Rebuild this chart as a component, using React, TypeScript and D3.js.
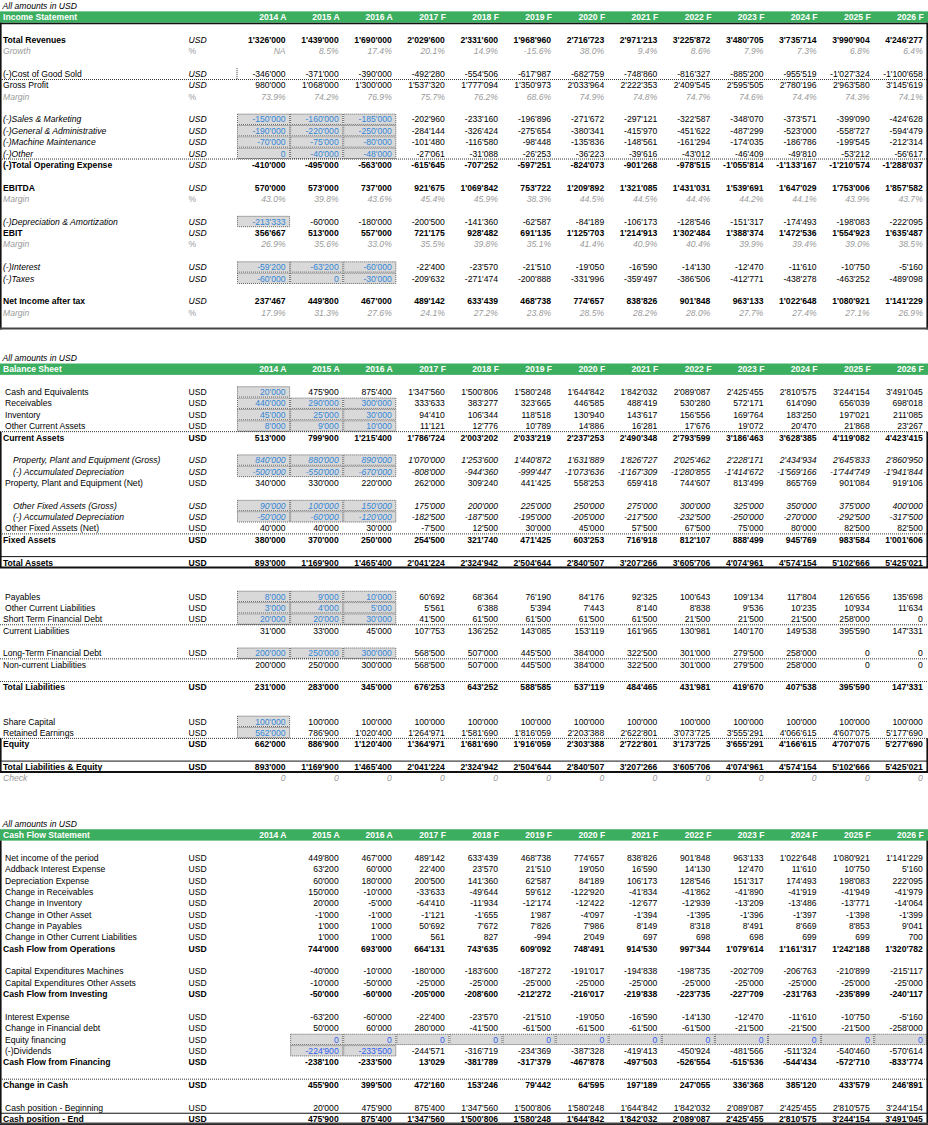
import React from "react";
import * as d3 from "d3";

// ---------- Column headers ----------
const years = ["2014 A", "2015 A", "2016 A", "2017 F", "2018 F", "2019 F", "2020 F", "2021 F", "2022 F", "2023 F", "2024 F", "2025 F", "2026 F"];

// ---------- Income statement ----------
const revenues = [1326000, 1439000, 1690000, 2029600, 2331600, 1968960, 2716723, 2971213, 3225872, 3480705, 3735714, 3990904, 4246277];
const growth = [null, 8.5, 17.4, 20.1, 14.9, -15.6, 38.0, 9.4, 8.6, 7.9, 7.3, 6.8, 6.4];
const cogs = [-346000, -371000, -390000, -492280, -554506, -617987, -682759, -748860, -816327, -885200, -955519, -1027324, -1100658];
const grossProfit = [980000, 1068000, 1300000, 1537320, 1777094, 1350973, 2033964, 2222353, 2409545, 2595505, 2780196, 2963580, 3145619];
const grossMargin = [73.9, 74.2, 76.9, 75.7, 76.2, 68.6, 74.9, 74.8, 74.7, 74.6, 74.4, 74.3, 74.1];
const salesMarketing = [-150000, -160000, -185000, -202960, -233160, -196896, -271672, -297121, -322587, -348070, -373571, -399090, -424628];
const generalAdmin = [-190000, -220000, -250000, -284144, -326424, -275654, -380341, -415970, -451622, -487299, -523000, -558727, -594479];
const machineMaint = [-70000, -75000, -80000, -101480, -116580, -98448, -135836, -148561, -161294, -174035, -186786, -199545, -212314];
const otherOpex = [0, -40000, -48000, -27061, -31088, -26253, -36223, -39616, -43012, -46409, -49810, -53212, -56617];
const totalOpex = [-410000, -495000, -563000, -615645, -707252, -597251, -824073, -901268, -978515, -1055814, -1133167, -1210574, -1288037];
const ebitda = [570000, 573000, 737000, 921675, 1069842, 753722, 1209892, 1321085, 1431031, 1539691, 1647029, 1753006, 1857582];
const ebitdaMargin = [43.0, 39.8, 43.6, 45.4, 45.9, 38.3, 44.5, 44.5, 44.4, 44.2, 44.1, 43.9, 43.7];
const depAmort = [-213333, -60000, -180000, -200500, -141360, -62587, -84189, -106173, -128546, -151317, -174493, -198083, -222095];
const ebit = [356667, 513000, 557000, 721175, 928482, 691135, 1125703, 1214913, 1302484, 1388374, 1472536, 1554923, 1635487];
const ebitMargin = [26.9, 35.6, 33.0, 35.5, 39.8, 35.1, 41.4, 40.9, 40.4, 39.9, 39.4, 39.0, 38.5];
const interest = [-59200, -63200, -60000, -22400, -23570, -21510, -19050, -16590, -14130, -12470, -11610, -10750, -5160];
const taxes = [-60000, 0, -30000, -209632, -271474, -200888, -331996, -359497, -386506, -412771, -438278, -463252, -489098];
const netIncome = [237467, 449800, 467000, 489142, 633439, 468738, 774657, 838826, 901848, 963133, 1022648, 1080921, 1141229];
const netMargin = [17.9, 31.3, 27.6, 24.1, 27.2, 23.8, 28.5, 28.2, 28.0, 27.7, 27.4, 27.1, 26.9];

// ---------- Balance sheet ----------
const cash = [20000, 475900, 875400, 1347560, 1500806, 1580248, 1644842, 1842032, 2089087, 2425455, 2810575, 3244154, 3491045];
const receivables = [440000, 290000, 300000, 333633, 383277, 323665, 446585, 488419, 530280, 572171, 614090, 656039, 698018];
const inventory = [45000, 25000, 30000, 94410, 106344, 118518, 130940, 143617, 156556, 169764, 183250, 197021, 211085];
const otherCurrentAssets = [8000, 9000, 10000, 11121, 12776, 10789, 14886, 16281, 17676, 19072, 20470, 21868, 23267];
const currentAssets = [513000, 799900, 1215400, 1786724, 2003202, 2033219, 2237253, 2490348, 2793599, 3186463, 3628385, 4119082, 4423415];
const ppeGross = [840000, 880000, 890000, 1070000, 1253600, 1440872, 1631889, 1826727, 2025462, 2228171, 2434934, 2645833, 2860950];
const ppeDep = [-500000, -550000, -670000, -808000, -944360, -999447, -1073636, -1167309, -1280855, -1414672, -1569166, -1744749, -1941844];
const ppeNet = [340000, 330000, 220000, 262000, 309240, 441425, 558253, 659418, 744607, 813499, 865769, 901084, 919106];
const ofaGross = [90000, 100000, 150000, 175000, 200000, 225000, 250000, 275000, 300000, 325000, 350000, 375000, 400000];
const ofaDep = [-50000, -60000, -120000, -182500, -187500, -195000, -205000, -217500, -232500, -250000, -270000, -292500, -317500];
const ofaNet = [40000, 40000, 30000, -7500, 12500, 30000, 45000, 57500, 67500, 75000, 80000, 82500, 82500];
const fixedAssets = [380000, 370000, 250000, 254500, 321740, 471425, 603253, 716918, 812107, 888499, 945769, 983584, 1001606];
const totalAssets = [893000, 1169900, 1465400, 2041224, 2324942, 2504644, 2840507, 3207266, 3605706, 4074961, 4574154, 5102666, 5425021];
const payables = [8000, 9000, 10000, 60692, 68364, 76190, 84176, 92325, 100643, 109134, 117804, 126656, 135698];
const otherCurrentLiab = [3000, 4000, 5000, 5561, 6388, 5394, 7443, 8140, 8838, 9536, 10235, 10934, 11634];
const shortTermDebt = [20000, 20000, 30000, 41500, 61500, 61500, 61500, 61500, 21500, 21500, 21500, 258000, 0];
const currentLiab = [31000, 33000, 45000, 107753, 136252, 143085, 153119, 161965, 130981, 140170, 149538, 395590, 147331];
const longTermDebt = [200000, 250000, 300000, 568500, 507000, 445500, 384000, 322500, 301000, 279500, 258000, 0, 0];
const nonCurrentLiab = [200000, 250000, 300000, 568500, 507000, 445500, 384000, 322500, 301000, 279500, 258000, 0, 0];
const totalLiab = [231000, 283000, 345000, 676253, 643252, 588585, 537119, 484465, 431981, 419670, 407538, 395590, 147331];
const shareCapital = [100000, 100000, 100000, 100000, 100000, 100000, 100000, 100000, 100000, 100000, 100000, 100000, 100000];
const retainedEarnings = [562000, 786900, 1020400, 1264971, 1581690, 1816059, 2203388, 2622801, 3073725, 3555291, 4066615, 4607075, 5177690];
const equity = [662000, 886900, 1120400, 1364971, 1681690, 1916059, 2303388, 2722801, 3173725, 3655291, 4166615, 4707075, 5277690];
const totalLiabEquity = [893000, 1169900, 1465400, 2041224, 2324942, 2504644, 2840507, 3207266, 3605706, 4074961, 4574154, 5102666, 5425021];
const check = [0, 0, 0, 0, 0, 0, 0, 0, 0, 0, 0, 0, 0];

// ---------- Cash flow (2015 A .. 2026 F) ----------
const cfNetIncome = [449800, 467000, 489142, 633439, 468738, 774657, 838826, 901848, 963133, 1022648, 1080921, 1141229];
const cfAddbackInterest = [63200, 60000, 22400, 23570, 21510, 19050, 16590, 14130, 12470, 11610, 10750, 5160];
const cfDepreciation = [60000, 180000, 200500, 141360, 62587, 84189, 106173, 128546, 151317, 174493, 198083, 222095];
const cfChgReceivables = [150000, -10000, -33633, -49644, 59612, -122920, -41834, -41862, -41890, -41919, -41949, -41979];
const cfChgInventory = [20000, -5000, -64410, -11934, -12174, -12422, -12677, -12939, -13209, -13486, -13771, -14064];
const cfChgOtherAsset = [-1000, -1000, -1121, -1655, 1987, -4097, -1394, -1395, -1396, -1397, -1398, -1399];
const cfChgPayables = [1000, 1000, 50692, 7672, 7826, 7986, 8149, 8318, 8491, 8669, 8853, 9041];
const cfChgOtherCL = [1000, 1000, 561, 827, -994, 2049, 697, 698, 698, 699, 699, 700];
const cfOperations = [744000, 693000, 664131, 743635, 609092, 748491, 914530, 997344, 1079614, 1161317, 1242188, 1320782];
const cfCapexMachines = [-40000, -10000, -180000, -183600, -187272, -191017, -194838, -198735, -202709, -206763, -210899, -215117];
const cfCapexOther = [-10000, -50000, -25000, -25000, -25000, -25000, -25000, -25000, -25000, -25000, -25000, -25000];
const cfInvesting = [-50000, -60000, -205000, -208600, -212272, -216017, -219838, -223735, -227709, -231763, -235899, -240117];
const cfInterestExp = [-63200, -60000, -22400, -23570, -21510, -19050, -16590, -14130, -12470, -11610, -10750, -5160];
const cfChgDebt = [50000, 60000, 280000, -41500, -61500, -61500, -61500, -61500, -21500, -21500, -21500, -258000];
const cfEquityFin = [0, 0, 0, 0, 0, 0, 0, 0, 0, 0, 0, 0];
const cfDividends = [-224900, -233500, -244571, -316719, -234369, -387328, -419413, -450924, -481566, -511324, -540460, -570614];
const cfFinancing = [-238100, -233500, 13029, -381789, -317379, -467878, -497503, -526554, -515536, -544434, -572710, -833774];
const cfChangeCash = [455900, 399500, 472160, 153246, 79442, 64595, 197189, 247055, 336368, 385120, 433579, 246891];
const cfCashBegin = [20000, 475900, 875400, 1347560, 1500806, 1580248, 1644842, 1842032, 2089087, 2425455, 2810575, 3244154];
const cfCashEnd = [475900, 875400, 1347560, 1500806, 1580248, 1644842, 1842032, 2089087, 2425455, 2810575, 3244154, 3491045];

// ---------- styling / layout ----------
const W = 928;
const H = 1125;
const FONT = "'Liberation Sans', Arial, Helvetica, sans-serif";
const FS = 8.6;
const GREEN = "#3cae5f";
const BLUE = "#3386d6";
const BLUE2 = "#2f5ff0";
const GRAY = "#9a9a9a";
const FILL = "#d9d9d9";

const colX = d3.scaleLinear().domain([0, 13]).range([237, 927.3]);
const rowY = d3.scaleLinear().domain([0, 99]).range([0, 1124.6]);

const fmtInt = (v: number) => (v < 0 ? "-" : "") + d3.format(",")(Math.abs(Math.round(v))).replace(/,/g, "'");
const fmtPct = (v: number | null) => (v === null ? "NA" : (v < 0 ? "-" : "") + d3.format(".1f")(Math.abs(v)) + "%");

type Item = null | {
  label: string;
  unit?: string;
  vals?: (number | null)[];
  start?: number;
  pct?: boolean;
  bold?: boolean;
  it?: boolean;
  vit?: boolean;
  uit?: boolean;
  gray?: boolean;
  indent?: number;
  input?: number[];
  inColor?: string;
  dotBottom?: boolean;
  dotTop?: boolean;
  solidTop?: boolean;
  thickBottom?: boolean;
  cogsMark?: boolean;
};

const r3 = [0, 1, 2];
const incomeItems: Item[] = [
  null,
  { label: "Total Revenues", unit: "USD", vals: revenues, bold: true, uit: true },
  { label: "Growth", unit: "%", vals: growth, pct: true, gray: true },
  null,
  { label: "(-)Cost of Good Sold", unit: "USD", vals: cogs, uit: true, dotBottom: true, cogsMark: true },
  { label: "Gross Profit", unit: "USD", vals: grossProfit, uit: true },
  { label: "Margin", unit: "%", vals: grossMargin, pct: true, gray: true },
  null,
  { label: "(-)Sales & Marketing", unit: "USD", vals: salesMarketing, it: true, uit: true, input: r3 },
  { label: "(-)General & Administrative", unit: "USD", vals: generalAdmin, it: true, uit: true, input: r3 },
  { label: "(-)Machine Maintenance", unit: "USD", vals: machineMaint, it: true, uit: true, input: r3 },
  { label: "(-)Other", unit: "USD", vals: otherOpex, it: true, uit: true, input: r3, dotBottom: true },
  { label: "(-)Total Operating Expense", unit: "USD", vals: totalOpex, bold: true, uit: true },
  null,
  { label: "EBITDA", unit: "USD", vals: ebitda, bold: true, uit: true },
  { label: "Margin", unit: "%", vals: ebitdaMargin, pct: true, gray: true },
  null,
  { label: "(-)Depreciation & Amortization", unit: "USD", vals: depAmort, it: true, uit: true, input: [0] },
  { label: "EBIT", unit: "USD", vals: ebit, bold: true, uit: true },
  { label: "Margin", unit: "%", vals: ebitMargin, pct: true, gray: true },
  null,
  { label: "(-)Interest", unit: "USD", vals: interest, it: true, uit: true, input: r3 },
  { label: "(-)Taxes", unit: "USD", vals: taxes, it: true, uit: true, input: r3 },
  null,
  { label: "Net Income after tax", unit: "USD", vals: netIncome, bold: true, uit: true },
  { label: "Margin", unit: "%", vals: netMargin, pct: true, gray: true },
  null,
];

const balanceItems: Item[] = [
  null,
  { label: "Cash and Equivalents", unit: "USD", vals: cash, indent: 2, input: [0] },
  { label: "Receivables", unit: "USD", vals: receivables, indent: 2, input: r3 },
  { label: "Inventory", unit: "USD", vals: inventory, indent: 2, input: r3 },
  { label: "Other Current Assets", unit: "USD", vals: otherCurrentAssets, indent: 2, input: r3, dotBottom: true },
  { label: "Current Assets", unit: "USD", vals: currentAssets, bold: true },
  null,
  { label: "Property, Plant and Equipment (Gross)", unit: "USD", vals: ppeGross, it: true, vit: true, uit: true, indent: 10, input: r3 },
  { label: "(-) Accumulated Depreciation", unit: "USD", vals: ppeDep, it: true, vit: true, uit: true, indent: 10, input: r3 },
  { label: "Property, Plant and Equipment (Net)", unit: "USD", vals: ppeNet, indent: 2 },
  null,
  { label: "Other Fixed Assets (Gross)", unit: "USD", vals: ofaGross, it: true, vit: true, uit: true, indent: 10, input: r3 },
  { label: "(-) Accumulated Depreciation", unit: "USD", vals: ofaDep, it: true, vit: true, uit: true, indent: 10, input: r3 },
  { label: "Other Fixed Assets (Net)", unit: "USD", vals: ofaNet, indent: 2, dotBottom: true },
  { label: "Fixed Assets", unit: "USD", vals: fixedAssets, bold: true },
  null,
  { label: "Total Assets", unit: "USD", vals: totalAssets, bold: true, solidTop: true, thickBottom: true },
  null,
  null,
  { label: "Payables", unit: "USD", vals: payables, indent: 2, input: r3 },
  { label: "Other Current Liabilities", unit: "USD", vals: otherCurrentLiab, indent: 2, input: r3 },
  { label: "Short Term Financial Debt", unit: "USD", vals: shortTermDebt, input: r3, dotBottom: true },
  { label: "Current Liabilities", vals: currentLiab },
  null,
  { label: "Long-Term Financial Debt", unit: "USD", vals: longTermDebt, input: r3, dotBottom: true },
  { label: "Non-current Liabilities", vals: nonCurrentLiab },
  null,
  { label: "Total Liabilities", unit: "USD", vals: totalLiab, bold: true, dotTop: true },
  null,
  null,
  { label: "Share Capital", unit: "USD", vals: shareCapital, input: [0] },
  { label: "Retained Earnings", unit: "USD", vals: retainedEarnings, input: [0], dotBottom: true },
  { label: "Equity", unit: "USD", vals: equity, bold: true },
  null,
  { label: "Total Liabilities & Equity", unit: "USD", vals: totalLiabEquity, bold: true, solidTop: true, thickBottom: true },
  { label: "Check", vals: check, gray: true },
];

const cashItems: Item[] = [
  null,
  { label: "Net income of the period", unit: "USD", vals: cfNetIncome, start: 1, indent: 2 },
  { label: "Addback Interest Expense", unit: "USD", vals: cfAddbackInterest, start: 1, indent: 2 },
  { label: "Depreciation Expense", unit: "USD", vals: cfDepreciation, start: 1, indent: 2 },
  { label: "Change in Receivables", unit: "USD", vals: cfChgReceivables, start: 1, indent: 2 },
  { label: "Change in Inventory", unit: "USD", vals: cfChgInventory, start: 1, indent: 2 },
  { label: "Change in Other Asset", unit: "USD", vals: cfChgOtherAsset, start: 1, indent: 2 },
  { label: "Change in Payables", unit: "USD", vals: cfChgPayables, start: 1, indent: 2 },
  { label: "Change in Other Current Liabilities", unit: "USD", vals: cfChgOtherCL, start: 1, indent: 2 },
  { label: "Cash Flow from Operations", unit: "USD", vals: cfOperations, start: 1, bold: true },
  null,
  { label: "Capital Expenditures Machines", unit: "USD", vals: cfCapexMachines, start: 1, indent: 2 },
  { label: "Capital Expenditures Other Assets", unit: "USD", vals: cfCapexOther, start: 1, indent: 2 },
  { label: "Cash Flow from Investing", unit: "USD", vals: cfInvesting, start: 1, bold: true },
  null,
  { label: "Interest Expense", unit: "USD", vals: cfInterestExp, start: 1, indent: 2 },
  { label: "Change in Financial debt", unit: "USD", vals: cfChgDebt, start: 1, indent: 2 },
  { label: "Equity financing", unit: "USD", vals: cfEquityFin, start: 1, indent: 2, input: d3.range(1, 13), inColor: BLUE2 },
  { label: "(-)Dividends", unit: "USD", vals: cfDividends, start: 1, indent: 2, input: [1, 2], inColor: BLUE2 },
  { label: "Cash Flow from Financing", unit: "USD", vals: cfFinancing, start: 1, bold: true },
  null,
  { label: "Change in Cash", unit: "USD", vals: cfChangeCash, start: 1, bold: true, dotTop: true },
  null,
  { label: "Cash position - Beginning", unit: "USD", vals: cfCashBegin, start: 1, indent: 2 },
  { label: "Cash position - End", unit: "USD", vals: cfCashEnd, start: 1, bold: true, solidTop: true, thickBottom: true },
];

type SectionProps = {
  start: number;
  title: string;
  items: Item[];
  underline?: boolean;
  boxes: [number, number][]; // [firstRow, lastRow] ranges (absolute) with left/right border
  bottomBorder?: number;
};

function Section({ start, title, items, underline, boxes, bottomBorder }: SectionProps) {
  const hTop = rowY(start + 1);
  const hBot = rowY(start + 2);
  const bodyStart = start + 2;
  const rh = rowY(1) - rowY(0);
  const elems: React.ReactNode[] = [];

  items.forEach((it, idx) => {
    if (!it) return;
    const r = bodyStart + idx;
    const top = rowY(r);
    const bot = rowY(r + 1);
    const base = top + 8.9;
    const key = `${start}-${idx}`;
    const startCol = it.start ?? 0;

    (it.input || []).forEach((c) => {
      elems.push(
        <rect key={`${key}-in-${c}`} x={colX(c) + 0.5} y={top + 0.5} width={colX(c + 1) - colX(c) - 1} height={rh - 1}
          fill={FILL} stroke="#555" strokeWidth={0.9} strokeDasharray="1 1" />
      );
    });

    if (it.dotBottom) elems.push(<line key={`${key}-db`} x1={0} x2={W} y1={bot} y2={bot} stroke="#333" strokeWidth={1} strokeDasharray="1 1" />);
    if (it.dotTop) elems.push(<line key={`${key}-dt`} x1={0} x2={W} y1={top} y2={top} stroke="#333" strokeWidth={1} strokeDasharray="1 1" />);
    if (it.solidTop) elems.push(<line key={`${key}-st`} x1={0} x2={W} y1={top} y2={top} stroke="#111" strokeWidth={1} />);
    if (it.thickBottom) elems.push(<line key={`${key}-tb`} x1={0} x2={W} y1={bot - 0.5} y2={bot - 0.5} stroke="#111" strokeWidth={2} />);
    if (it.cogsMark) elems.push(<line key={`${key}-cm`} x1={colX(0)} x2={colX(0)} y1={top} y2={bot} stroke="#333" strokeWidth={1} strokeDasharray="1 1" />);

    const color = it.gray ? GRAY : "#000";
    elems.push(
      <text key={`${key}-l`} x={3 + (it.indent || 0)} y={base} fill={color}
        fontWeight={it.bold ? "bold" : "normal"} fontStyle={it.it || it.gray ? "italic" : "normal"}>{it.label}</text>
    );
    if (it.unit) {
      elems.push(
        <text key={`${key}-u`} x={188.5} y={base} fill={it.unit === "%" ? GRAY : "#000"}
          fontWeight={it.bold && !it.uit ? "bold" : "normal"} fontStyle={it.uit ? "italic" : "normal"}>{it.unit}</text>
      );
    }
    (it.vals || []).forEach((v, j) => {
      const c = startCol + j;
      const isInput = (it.input || []).includes(c);
      const txt = it.pct ? fmtPct(v as number | null) : fmtInt(v as number);
      elems.push(
        <text key={`${key}-v-${c}`} x={colX(c + 1) - 4.5} y={base} textAnchor="end"
          fill={isInput ? (it.inColor || BLUE) : color}
          fontWeight={it.bold ? "bold" : "normal"}
          fontStyle={it.vit || it.gray ? "italic" : "normal"}>{txt}</text>
      );
    });
  });

  return (
    <g>
      <text x={2.5} y={rowY(start) + 8.9} fontStyle="italic" fill="#000">All amounts in USD</text>
      <rect x={0} y={hTop} width={W} height={hBot - hTop} fill={GREEN} />
      <text x={3} y={hTop + 8.9} fill="#fff" fontWeight="bold">{title}</text>
      {years.map((y, k) => (
        <text key={y} x={colX(k + 1) - 3.5} y={hTop + 8.9} textAnchor="end" fill="#fff" fontWeight="bold">{y}</text>
      ))}
      {elems}
      {underline && <line x1={0} x2={W} y1={hBot + 0.7} y2={hBot + 0.7} stroke="#111" strokeWidth={1.5} />}
      {boxes.map(([a, b], i) => (
        <g key={`box-${i}`}>
          <line x1={0.8} x2={0.8} y1={a < 0 ? hBot : rowY(a)} y2={rowY(b + 1)} stroke="#111" strokeWidth={1.6} />
          <line x1={927.2} x2={927.2} y1={a < 0 ? hBot : rowY(a)} y2={rowY(b + 1)} stroke="#111" strokeWidth={1.6} />
        </g>
      ))}
      {bottomBorder !== undefined && (
        <line x1={0} x2={W} y1={rowY(bottomBorder + 1) - 1} y2={rowY(bottomBorder + 1) - 1} stroke="#444" strokeWidth={2} />
      )}
    </g>
  );
}

export default function App() {
  return (
    <svg width={W} height={H} viewBox={`0 0 ${W} ${H}`}
      style={{ position: "absolute", left: 0, top: 0, background: "#fff" }}
      fontFamily={FONT} fontSize={FS}>
      <rect x={0} y={0} width={W} height={H} fill="#fff" />
      <Section start={0} title="Income Statement" items={incomeItems} underline boxes={[[-1, 28]]} bottomBorder={28} />
      <Section start={31} title="Balance Sheet" items={balanceItems} boxes={[[38, 49], [65, 67]]} />
      <Section start={72} title="Cash Flow Statement" items={cashItems} boxes={[[-1, 98]]} bottomBorder={98} />
    </svg>
  );
}
